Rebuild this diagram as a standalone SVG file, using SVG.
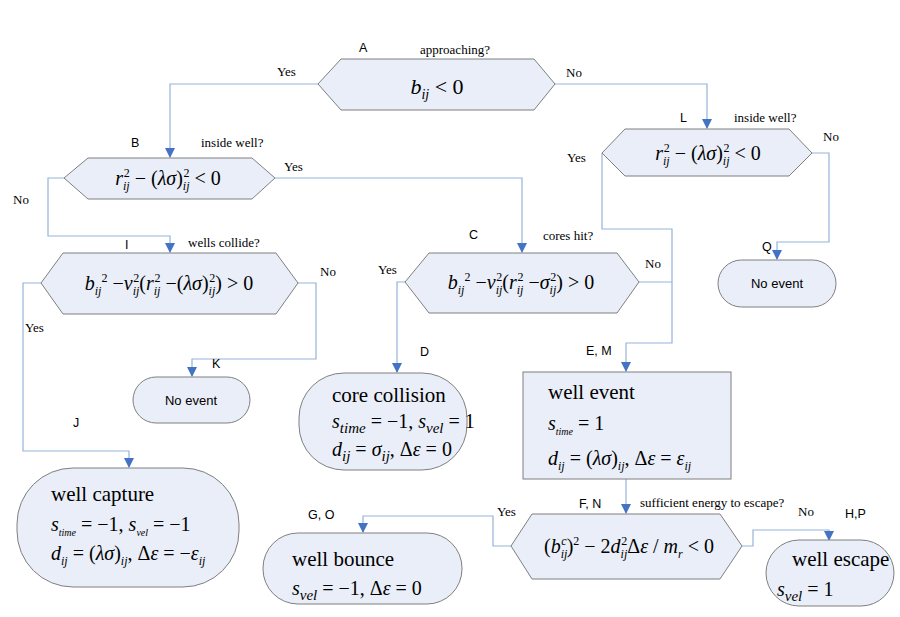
<svg xmlns="http://www.w3.org/2000/svg" width="900" height="617" viewBox="0 0 900 617">
<defs>
<marker id="arr" markerUnits="userSpaceOnUse" markerWidth="10" markerHeight="10" refX="9" refY="5" orient="auto">
<path d="M0,0 L10,5 L0,10 z" fill="#4472c4"/>
</marker>
</defs>
<rect width="900" height="617" fill="#ffffff"/>

<g id="connectors" fill="none" stroke="#95b3d7" stroke-width="1.2">
<path marker-end="url(#arr)" d="M318,84 H170 V157"/>
<path marker-end="url(#arr)" d="M555,84 H707 V128"/>
<path marker-end="url(#arr)" d="M275,178 H522 V252"/>
<path marker-end="url(#arr)" d="M64,178 H48 V236 H170 V252"/>
<path marker-end="url(#arr)" d="M602,153 V229 H672 V343 H626 V371"/>
<path marker-end="url(#arr)" d="M812,153 H829 V242 H777 V259"/>
<path d="M639,282 H672"/>
<path marker-end="url(#arr)" d="M405,282 H397 V372"/>
<path marker-end="url(#arr)" d="M41,283 H23 V451 H129 V467"/>
<path marker-end="url(#arr)" d="M298,283 H316 V359 H192 V376"/>
<path marker-end="url(#arr)" d="M626,479 V513"/>
<path marker-end="url(#arr)" d="M511,546 H493 V516 H363 V532"/>
<path marker-end="url(#arr)" d="M742,546 H753 V530 H829 V540"/>
</g>

<g id="labels" fill="#000">
<text font-family="Liberation Sans" font-size="12.5" x="359" y="52">A</text>
<text font-family="Liberation Sans" font-size="12.5" x="131" y="147">B</text>
<text font-family="Liberation Sans" font-size="12.5" x="680" y="122">L</text>
<text font-family="Liberation Sans" font-size="12.5" x="125" y="249">I</text>
<text font-family="Liberation Sans" font-size="12.5" x="469" y="239">C</text>
<text font-family="Liberation Sans" font-size="12.5" x="420" y="356">D</text>
<text font-family="Liberation Sans" font-size="12.5" x="586" y="355">E, M</text>
<text font-family="Liberation Sans" font-size="12.5" x="212" y="368">K</text>
<text font-family="Liberation Sans" font-size="12.5" x="762" y="251">Q</text>
<text font-family="Liberation Sans" font-size="12.5" x="73" y="427">J</text>
<text font-family="Liberation Sans" font-size="12.5" x="308" y="519">G, O</text>
<text font-family="Liberation Sans" font-size="12.5" x="579" y="508">F, N</text>
<text font-family="Liberation Sans" font-size="12.5" x="845" y="518">H,P</text>
<text font-family="Liberation Serif" font-size="13" x="420" y="54">approaching?</text>
<text font-family="Liberation Serif" font-size="13" x="277" y="76">Yes</text>
<text font-family="Liberation Serif" font-size="13" x="566" y="77">No</text>
<text font-family="Liberation Serif" font-size="13" x="201" y="147">inside well?</text>
<text font-family="Liberation Serif" font-size="13" x="284" y="171">Yes</text>
<text font-family="Liberation Serif" font-size="13" x="13" y="204">No</text>
<text font-family="Liberation Serif" font-size="13" x="734" y="122">inside well?</text>
<text font-family="Liberation Serif" font-size="13" x="823" y="141">No</text>
<text font-family="Liberation Serif" font-size="13" x="567" y="162">Yes</text>
<text font-family="Liberation Serif" font-size="13" x="188" y="247">wells collide?</text>
<text font-family="Liberation Serif" font-size="13" x="320" y="276">No</text>
<text font-family="Liberation Serif" font-size="13" x="25" y="332">Yes</text>
<text font-family="Liberation Serif" font-size="13" x="543" y="240">cores hit?</text>
<text font-family="Liberation Serif" font-size="13" x="378" y="274">Yes</text>
<text font-family="Liberation Serif" font-size="13" x="645" y="268">No</text>
<text font-family="Liberation Serif" font-size="13" x="497" y="516">Yes</text>
<text font-family="Liberation Serif" font-size="13" x="640" y="507">sufficient energy to escape?</text>
<text font-family="Liberation Serif" font-size="13" x="798" y="516">No</text>
</g>

<g id="A">
<polygon fill="#e9eef8" stroke="#7f7f7f" points="318,84 341,59 534,59 555,84 534,110 341,110"/>
<text font-family="Liberation Serif" font-size="22" x="437" y="94" text-anchor="middle"><tspan font-style="italic">b</tspan><tspan font-size="14" font-style="italic" baseline-shift="-5">ij</tspan><tspan> &lt; 0</tspan></text>
</g>

<g id="B">
<polygon fill="#e9eef8" stroke="#7f7f7f" points="64,178 88,158 252,158 275,178 252,199 88,199"/>
<text font-family="Liberation Serif" font-size="20" x="168" y="185" text-anchor="middle"><tspan font-style="italic">r</tspan><tspan font-size="12" font-style="italic" baseline-shift="-5">ij</tspan><tspan font-size="12" baseline-shift="8" dx="-6">2</tspan><tspan> − (</tspan><tspan font-style="italic">λσ</tspan><tspan>)</tspan><tspan font-size="12" font-style="italic" baseline-shift="-5">ij</tspan><tspan font-size="12" baseline-shift="8" dx="-6">2</tspan><tspan> &lt; 0</tspan></text>
</g>

<g id="L">
<polygon fill="#e9eef8" stroke="#7f7f7f" points="602,153 625,129 789,129 812,153 789,176 625,176"/>
<text font-family="Liberation Serif" font-size="20" x="708" y="160" text-anchor="middle"><tspan font-style="italic">r</tspan><tspan font-size="12" font-style="italic" baseline-shift="-5">ij</tspan><tspan font-size="12" baseline-shift="8" dx="-6">2</tspan><tspan> − (</tspan><tspan font-style="italic">λσ</tspan><tspan>)</tspan><tspan font-size="12" font-style="italic" baseline-shift="-5">ij</tspan><tspan font-size="12" baseline-shift="8" dx="-6">2</tspan><tspan> &lt; 0</tspan></text>
</g>

<g id="Q">
<rect fill="#e9eef8" stroke="#7f7f7f" x="718" y="260" width="118" height="47" rx="23.5"/>
<text font-family="Liberation Sans" font-size="13" x="777" y="288" text-anchor="middle">No event</text>
</g>

<g id="I">
<polygon fill="#e9eef8" stroke="#7f7f7f" points="41,283 63,253 276,253 298,283 276,314 63,314"/>
<text font-family="Liberation Serif" font-size="20" x="169" y="290" text-anchor="middle"><tspan font-style="italic">b</tspan><tspan font-size="12" font-style="italic" baseline-shift="-5">ij</tspan><tspan font-size="12" baseline-shift="8">2</tspan><tspan> −</tspan><tspan font-style="italic">v</tspan><tspan font-size="12" font-style="italic" baseline-shift="-5">ij</tspan><tspan font-size="12" baseline-shift="8" dx="-6">2</tspan><tspan>(</tspan><tspan font-style="italic">r</tspan><tspan font-size="12" font-style="italic" baseline-shift="-5">ij</tspan><tspan font-size="12" baseline-shift="8" dx="-6">2</tspan><tspan> −(</tspan><tspan font-style="italic">λσ</tspan><tspan>)</tspan><tspan font-size="12" font-style="italic" baseline-shift="-5">ij</tspan><tspan font-size="12" baseline-shift="8" dx="-6">2</tspan><tspan>) &gt; 0</tspan></text>
</g>

<g id="K">
<rect fill="#e9eef8" stroke="#7f7f7f" x="133" y="377" width="117" height="46" rx="23"/>
<text font-family="Liberation Sans" font-size="13" x="191" y="405" text-anchor="middle">No event</text>
</g>

<g id="C">
<polygon fill="#e9eef8" stroke="#7f7f7f" points="405,282 429,253 617,253 639,282 617,313 429,313"/>
<text font-family="Liberation Serif" font-size="20" x="521" y="289" text-anchor="middle"><tspan font-style="italic">b</tspan><tspan font-size="12" font-style="italic" baseline-shift="-5">ij</tspan><tspan font-size="12" baseline-shift="8">2</tspan><tspan> −</tspan><tspan font-style="italic">v</tspan><tspan font-size="12" font-style="italic" baseline-shift="-5">ij</tspan><tspan font-size="12" baseline-shift="8" dx="-6">2</tspan><tspan>(</tspan><tspan font-style="italic">r</tspan><tspan font-size="12" font-style="italic" baseline-shift="-5">ij</tspan><tspan font-size="12" baseline-shift="8" dx="-6">2</tspan><tspan> −</tspan><tspan font-style="italic">σ</tspan><tspan font-size="12" font-style="italic" baseline-shift="-5">ij</tspan><tspan font-size="12" baseline-shift="8" dx="-6">2</tspan><tspan>) &gt; 0</tspan></text>
</g>

<g id="D">
<rect fill="#e9eef8" stroke="#7f7f7f" x="299" y="373" width="168" height="97" rx="45"/>
<text font-family="Liberation Serif" font-size="21" x="332" y="402">core collision</text>
<text font-family="Liberation Serif" font-size="20" x="332" y="428"><tspan font-style="italic">s</tspan><tspan font-size="15" font-style="italic" baseline-shift="-5">time</tspan><tspan> = −1, </tspan><tspan font-style="italic">s</tspan><tspan font-size="15" font-style="italic" baseline-shift="-5">vel</tspan><tspan> = 1</tspan></text>
<text font-family="Liberation Serif" font-size="20" x="332" y="456"><tspan font-style="italic">d</tspan><tspan font-size="15" font-style="italic" baseline-shift="-5">ij</tspan><tspan> = </tspan><tspan font-style="italic">σ</tspan><tspan font-size="15" font-style="italic" baseline-shift="-5">ij</tspan><tspan>, Δ</tspan><tspan font-style="italic">ε</tspan><tspan> = 0</tspan></text>
</g>

<g id="EM">
<rect fill="#e9eef8" stroke="#7f7f7f" x="523" y="372" width="208" height="107"/>
<text font-family="Liberation Serif" font-size="21" x="548" y="399">well event</text>
<text font-family="Liberation Serif" font-size="20" x="548" y="430"><tspan font-style="italic">s</tspan><tspan font-size="10" font-style="italic" baseline-shift="-5">time</tspan><tspan> = 1</tspan></text>
<text font-family="Liberation Serif" font-size="20" x="548" y="465"><tspan font-style="italic">d</tspan><tspan font-size="12" font-style="italic" baseline-shift="-5">ij</tspan><tspan> = (</tspan><tspan font-style="italic">λσ</tspan><tspan>)</tspan><tspan font-size="12" font-style="italic" baseline-shift="-5">ij</tspan><tspan>, Δ</tspan><tspan font-style="italic">ε</tspan><tspan> = </tspan><tspan font-style="italic">ε</tspan><tspan font-size="12" font-style="italic" baseline-shift="-5">ij</tspan></text>
</g>

<g id="J">
<rect fill="#e9eef8" stroke="#7f7f7f" x="17" y="468" width="222" height="119" rx="56"/>
<text font-family="Liberation Serif" font-size="21" x="51" y="501">well capture</text>
<text font-family="Liberation Serif" font-size="20" x="51" y="531"><tspan font-style="italic">s</tspan><tspan font-size="10" font-style="italic" baseline-shift="-5">time</tspan><tspan> = −1, </tspan><tspan font-style="italic">s</tspan><tspan font-size="10" font-style="italic" baseline-shift="-5">vel</tspan><tspan> = −1</tspan></text>
<text font-family="Liberation Serif" font-size="20" x="51" y="560"><tspan font-style="italic">d</tspan><tspan font-size="12" font-style="italic" baseline-shift="-5">ij</tspan><tspan> = (</tspan><tspan font-style="italic">λσ</tspan><tspan>)</tspan><tspan font-size="12" font-style="italic" baseline-shift="-5">ij</tspan><tspan>, Δ</tspan><tspan font-style="italic">ε</tspan><tspan> = −</tspan><tspan font-style="italic">ε</tspan><tspan font-size="12" font-style="italic" baseline-shift="-5">ij</tspan></text>
</g>

<g id="FN">
<polygon fill="#e9eef8" stroke="#7f7f7f" points="511,546 532,514 720,514 742,546 720,579 532,579"/>
<text font-family="Liberation Serif" font-size="20" x="629" y="553" text-anchor="middle"><tspan>(</tspan><tspan font-style="italic">b</tspan><tspan font-size="12" font-style="italic" baseline-shift="-5">ij</tspan><tspan font-size="12" font-style="italic" baseline-shift="8" dx="-6">c</tspan><tspan>)</tspan><tspan font-size="12" baseline-shift="8">2</tspan><tspan> − 2</tspan><tspan font-style="italic">d</tspan><tspan font-size="12" font-style="italic" baseline-shift="-5">ij</tspan><tspan font-size="12" baseline-shift="8" dx="-6">2</tspan><tspan>Δ</tspan><tspan font-style="italic">ε</tspan><tspan> / </tspan><tspan font-style="italic">m</tspan><tspan font-size="12" font-style="italic" baseline-shift="-5">r</tspan><tspan> &lt; 0</tspan></text>
</g>

<g id="GO">
<rect fill="#e9eef8" stroke="#7f7f7f" x="263" y="533" width="199" height="71" rx="35"/>
<text font-family="Liberation Serif" font-size="21" x="292" y="566">well bounce</text>
<text font-family="Liberation Serif" font-size="20" x="292" y="595"><tspan font-style="italic">s</tspan><tspan font-size="15" font-style="italic" baseline-shift="-5">vel</tspan><tspan> = −1,  Δ</tspan><tspan font-style="italic">ε</tspan><tspan> = 0</tspan></text>
</g>

<g id="HP">
<rect fill="#e9eef8" stroke="#7f7f7f" x="766" y="540" width="128" height="66" rx="33"/>
<text font-family="Liberation Serif" font-size="21" x="792" y="566">well escape</text>
<text font-family="Liberation Serif" font-size="20" x="777" y="596"><tspan font-style="italic">s</tspan><tspan font-size="15" font-style="italic" baseline-shift="-5">vel</tspan><tspan> = 1</tspan></text>
</g>
</svg>
